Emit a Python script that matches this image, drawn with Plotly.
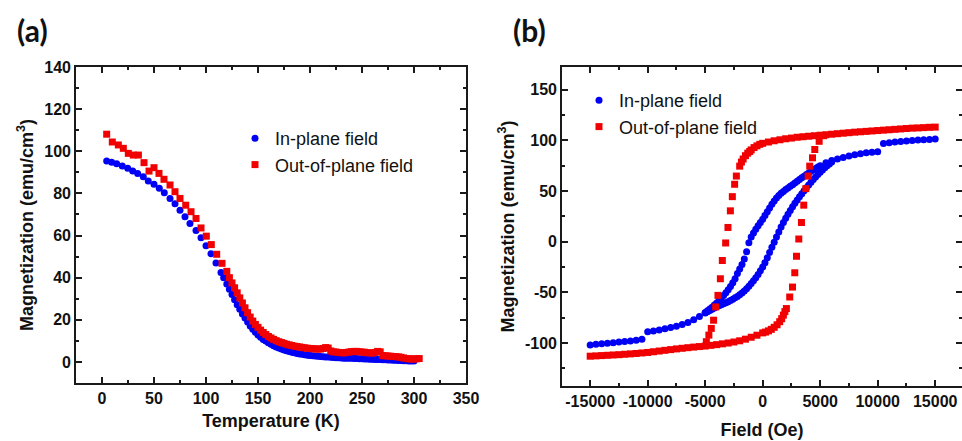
import plotly.graph_objects as go

# ---------------- (a) M(T) curves ----------------
temp_inplane = [4.5, 9.3, 14.1, 19.5, 24.7, 29.5, 34.3, 39.7, 44.5, 50, 55.1, 59.9, 65.4, 70.2, 75,
                79.8, 84.6, 90.4, 95.2, 100, 104.8, 109.6, 114.4, 117, 120, 122.5, 125, 127.5, 130,
                132.5, 135, 137.5, 140, 142.5, 145, 147.5, 150, 152.5, 155, 157.5, 160, 162.5, 165,
                167.5, 170, 172.5, 175, 177.5, 180, 182.5, 185, 187.5, 190, 192.5, 195, 197.5, 200,
                202.5, 205, 207.5, 210, 212.5, 215, 217.5, 220, 222.5, 225, 227.5, 230, 232.5, 235,
                237.5, 240, 242.5, 245, 247.5, 250, 252.5, 255, 257.5, 260, 262.5, 265, 267.5, 270,
                272.5, 275, 277.5, 280, 282.5, 285, 287.5, 290, 292.5, 295, 297.5, 300]
mag_inplane = [95.4, 94.8, 94.1, 93.0, 91.9, 90.6, 89.4, 87.9, 85.9, 84.3, 82.4, 80.3, 77.6, 75.1, 72.0,
               68.9, 65.7, 62.4, 58.9, 55.2, 51.4, 47.0, 42.5, 40.0, 37.0, 34.5, 32.0, 29.5, 27.2,
               25.0, 22.8, 20.8, 18.9, 17.1, 15.5, 14.1, 12.8, 11.7, 10.7, 9.9, 9.1, 8.4, 7.7,
               7.1, 6.6, 6.1, 5.7, 5.3, 4.9, 4.6, 4.3, 4.0, 3.8, 3.6, 3.4, 3.2, 3.0,
               2.9, 2.8, 2.7, 2.6, 2.5, 2.4, 2.3, 2.2, 2.1, 2.0, 2.0, 1.9, 1.8, 1.8,
               1.7, 1.7, 1.6, 1.6, 1.5, 1.5, 1.4, 1.4, 1.3, 1.3, 1.2, 1.2, 1.1, 1.0,
               1.0, 0.9, 0.9, 0.8, 0.8, 0.7, 0.7, 0.6, 0.6, 0.5, 0.5, 0.5]

temp_outplane = [4.5, 9.9, 15.7, 20.5, 25.3, 30.1, 35, 40.4, 45.2, 50, 54.8, 59.6, 65.4, 70.2, 75,
                 80.5, 85.6, 90.4, 95.2, 100.3, 105.1, 110.3, 115.4, 120, 122.5, 125, 127.5, 130,
                 132.5, 135, 137.5, 140, 142.5, 145, 147.5, 150, 152.5, 155, 157.5, 160, 162.5, 165,
                 167.5, 170, 172.5, 175, 177.5, 180, 182.5, 185, 187.5, 190, 192.5, 195, 197.5, 200,
                 202.5, 205, 207.5, 210, 212.5, 215, 217.5, 220, 222.5, 225, 227.5, 230, 232.5, 235,
                 237.5, 240, 242.5, 245, 247.5, 250, 252.5, 255, 257.5, 260, 262.5, 265, 267.5, 270,
                 272.5, 275, 277.5, 280, 282.5, 285, 287.5, 290, 292.5, 295, 297.5, 300, 302.5, 305]
mag_outplane = [108.1, 104.4, 103.0, 101.4, 99.0, 98.2, 98.2, 94.6, 90.6, 92.2, 89.5, 86.7, 84.0, 80.8, 77.6,
                74.4, 71.3, 68.1, 63.6, 59.7, 55.7, 51.1, 46.8, 43.0, 40.0, 37.5, 35.2, 32.8,
                30.4, 28.0, 25.7, 23.4, 21.3, 19.4, 17.8, 16.4, 15.1, 14.0, 13.0, 12.1, 11.4, 10.7,
                10.1, 9.6, 9.2, 8.8, 8.4, 8.1, 7.8, 7.5, 7.3, 7.1, 6.9, 6.7, 6.5, 6.4,
                6.3, 6.2, 6.1, 6.1, 6.4, 6.8, 6.6, 5.2, 4.8, 4.7, 4.5, 4.4, 4.3, 4.5,
                4.7, 4.9, 5.0, 5.0, 4.8, 4.7, 4.6, 4.4, 4.3, 4.2, 4.5, 5.0, 4.8, 3.0,
                2.9, 2.8, 2.7, 2.6, 2.5, 2.4, 2.2, 1.9, 1.6, 1.5, 1.4, 1.4, 1.5, 1.6]

# ---------------- (b) M(H) loops ----------------
# In-plane: sweep from +15 kOe down to the point where the branches meet
field_inplane_down = [15000, 14500, 14000, 13500, 13000, 12500, 12000, 11500, 11000, 10500,
                      10000, 9500, 9000, 8500, 8000, 7500, 7000, 6500, 6000, 5500,
                      5000, 4800, 4600, 4400, 4200, 4000, 3800, 3600, 3400, 3200,
                      3000, 2800, 2600, 2400, 2200, 2000, 1800, 1600, 1400, 1200,
                      1000, 800, 600, 400, 200, 0, -200, -400, -600, -800,
                      -1000, -1200, -1400, -1600, -1800, -2000, -2200, -2400, -2600, -2800,
                      -3000, -3200, -3400, -3600, -3800, -4000, -4200, -4400, -4600, -4800, -5000]
mag_inplane_down = [101.2, 100.9, 100.6, 100.2, 99.8, 99.3, 98.8, 98.2, 97.6, 96.8,
                    88.8, 88.3, 87.6, 86.8, 85.8, 84.5, 83.0, 81.6, 80.0, 77.8,
                    75.0, 73.6, 72.2, 70.9, 69.4, 67.8, 66.2, 64.6, 63.0, 61.4,
                    59.6, 57.9, 56.2, 54.6, 53.0, 51.4, 49.6, 47.7, 45.6, 43.0,
                    40.0, 36.8, 33.2, 29.5, 25.8, 22.0, 18.8, 15.6, 12.3, 8.5,
                    4.5, -1.0, -10.0, -17.0, -22.5, -27.0, -31.5, -36.5, -40.5, -44.2,
                    -47.5, -50.5, -53.2, -55.8, -58.2, -60.5, -62.6, -64.6, -66.4, -68.2, -70.0]
# In-plane: return sweep from -15 kOe up to the merging point
field_inplane_up = [-15000, -14500, -14000, -13500, -13000, -12500, -12000, -11500, -11000, -10500,
                    -10000, -9500, -9000, -8500, -8000, -7500, -7000, -6500, -6000, -5500,
                    -5000, -4800, -4600, -4400, -4200, -4000, -3800, -3600, -3400, -3200,
                    -3000, -2800, -2600, -2400, -2200, -2000, -1800, -1600, -1400, -1200,
                    -1000, -800, -600, -400, -200, 0, 200, 400, 600, 800,
                    1000, 1200, 1400, 1600, 1800, 2000, 2200, 2400, 2600, 2800,
                    3000, 3200, 3400, 3600, 3800, 4000, 4200, 4400, 4600, 4800,
                    5000, 5200, 5400, 5600, 5800, 6000]
mag_inplane_up = [-101.9, -101.3, -100.7, -100.2, -99.7, -99.1, -98.5, -97.9, -97.2, -96.4,
                  -89.0, -88.2, -87.2, -86.0, -84.8, -83.4, -81.8, -79.8, -77.0, -73.8,
                  -70.5, -69.2, -67.8, -66.6, -65.4, -64.3, -63.3, -62.3, -61.3, -60.3,
                  -59.2, -58.0, -56.8, -55.4, -54.0, -52.4, -50.6, -48.6, -46.4, -44.0,
                  -41.4, -38.6, -35.6, -32.3, -28.8, -25.0, -20.8, -16.0, -10.8, -5.4,
                  -0.5, 4.5, 9.5, 14.5, 19.0, 23.0, 27.0, 30.8, 34.4, 37.8,
                  41.0, 44.2, 47.3, 50.3, 53.2, 56.0, 58.7, 61.3, 63.8, 66.2,
                  68.5, 70.7, 72.8, 74.8, 76.7, 78.5]

# Out-of-plane: sweep from +15 kOe through the switching field
field_outplane_down = [15000, 14500, 14000, 13500, 13000, 12500, 12000, 11500, 11000, 10500,
                       10000, 9500, 9000, 8500, 8000, 7500, 7000, 6500, 6000, 5500,
                       5000, 4500, 4000, 3500, 3000, 2500, 2000, 1500, 1000, 500,
                       0, -250, -500, -750, -1000, -1130, -1300, -1500, -1700, -1850,
                       -2000, -2290, -2440, -2640, -2810, -3020, -3220, -3510, -3680, -3890,
                       -4090, -4270, -4470, -4680, -4900]
mag_outplane_down = [113.0, 112.8, 112.5, 112.2, 112.0, 111.6, 111.2, 110.8, 110.4, 110.0,
                     109.6, 109.2, 108.8, 108.4, 108.0, 107.5, 107.0, 106.5, 106.0, 105.5,
                     105.0, 104.5, 104.0, 103.5, 103.0, 102.2, 101.5, 100.5, 99.5, 98.3,
                     97.0, 96.0, 94.5, 92.8, 90.5, 89.0, 87.3, 84.8, 81.5, 78.5,
                     74.5, 64.7, 56.6, 44.4, 30.4, 14.0, -1.3, -18.6, -36.6, -53.0,
                     -64.4, -77.5, -85.6, -92.2, -98.7]
# Out-of-plane: return sweep from -15 kOe through the positive switching field
field_outplane_up = [-15000, -14500, -14000, -13500, -13000, -12500, -12000, -11500, -11000, -10500,
                     -10000, -9500, -9000, -8500, -8000, -7500, -7000, -6500, -6000, -5500,
                     -5000, -4500, -4000, -3500, -3000, -2500, -2000, -1500, -1000, -500,
                     0, 250, 500, 750, 1000, 1250, 1480, 1650, 1800, 1930,
                     2060, 2350, 2590, 2790, 2940, 3140, 3370, 3570, 3750, 3950,
                     4090, 4330, 4530, 4910, 5300]
mag_outplane_up = [-113.0, -112.7, -112.4, -112.1, -111.8, -111.5, -111.1, -110.7, -110.3, -109.8,
                   -109.3, -108.6, -107.9, -107.2, -106.5, -105.8, -105.2, -104.6, -104.0, -103.5,
                   -103.0, -102.3, -101.6, -100.8, -100.0, -99.0, -97.8, -96.2, -94.3, -92.3,
                   -90.0, -89.2, -88.0, -86.5, -84.5, -82.0, -79.0, -76.0, -72.5, -69.0,
                   -66.0, -54.6, -44.8, -30.7, -14.4, 2.6, 18.9, 36.0, 52.3, 64.7,
                   74.5, 82.7, 90.9, 99.0, 104.5]

# Tick labels of panel (b), written with a plain hyphen for negatives
field_ticks = [-15000, -10000, -5000, 0, 5000, 10000, 15000]
field_tick_text = ["-15000", "-10000", "-5000", "0", "5000", "10000", "15000"]
moment_ticks = [-100, -50, 0, 50, 100, 150]
moment_tick_text = ["-100", "-50", "0", "50", "100", "150"]

BLUE = "#0000f5"
RED = "#f00000"
FONT = "Liberation Sans, Arial, sans-serif"

fig = go.Figure()

fig.add_trace(go.Scatter(x=temp_inplane, y=mag_inplane, mode="markers", name="In-plane field",
                         marker=dict(symbol="circle", size=7, color=BLUE, line=dict(width=0)),
                         xaxis="x", yaxis="y", legend="legend"))
fig.add_trace(go.Scatter(x=temp_outplane, y=mag_outplane, mode="markers", name="Out-of-plane field",
                         marker=dict(symbol="square", size=7, color=RED, line=dict(width=0)),
                         xaxis="x", yaxis="y", legend="legend"))

fig.add_trace(go.Scatter(x=field_inplane_down + field_inplane_up,
                         y=mag_inplane_down + mag_inplane_up,
                         mode="markers", name="In-plane field",
                         marker=dict(symbol="circle", size=7, color=BLUE, line=dict(width=0)),
                         xaxis="x2", yaxis="y2", legend="legend2"))
fig.add_trace(go.Scatter(x=field_outplane_down + field_outplane_up,
                         y=mag_outplane_down + mag_outplane_up,
                         mode="markers", name="Out-of-plane field",
                         marker=dict(symbol="square", size=7, color=RED, line=dict(width=0)),
                         xaxis="x2", yaxis="y2", legend="legend2"))

W, H = 962, 441


def axis_style(**kw):
    base = dict(showline=True, linewidth=1.6, linecolor="#1a1a1a", mirror="allticks",
                ticks="inside", ticklen=6, tickwidth=1.6, tickcolor="#1a1a1a",
                showgrid=False, zeroline=False, automargin=False,
                tickfont=dict(family=FONT, size=16, color="#111", weight="bold"))
    base.update(kw)
    return base


def minor(step):
    return dict(ticks="inside", ticklen=3, tickwidth=1.6, tickcolor="#1a1a1a", dtick=step, showgrid=False)


title_font = dict(family=FONT, size=18, color="#111", weight="bold")
panel_font = dict(family="Lato, Open Sans, sans-serif", size=30, color="#111", weight="bold")

fig.update_layout(
    width=W, height=H, margin=dict(l=0, r=0, t=0, b=0),
    paper_bgcolor="white", plot_bgcolor="white",
    xaxis=axis_style(domain=[76 / W, 466 / W], range=[-25, 350], tick0=0, dtick=50, minor=minor(25),
                     anchor="y",
                     title=dict(text="Temperature (K)", standoff=8, font=title_font)),
    yaxis=axis_style(domain=[1 - 383 / H, 1 - 67 / H], range=[-10, 140], tick0=0, dtick=20, minor=minor(10),
                     anchor="x",
                     title=dict(text="Magnetization (emu/cm<sup>3</sup>)", standoff=6, font=title_font)),
    xaxis2=axis_style(domain=[562 / W, 1.0], range=[-17450, 17330],
                      tickmode="array", tickvals=field_ticks, ticktext=field_tick_text,
                      minor=minor(2500), anchor="y2",
                      title=dict(text="Field (Oe)", standoff=14, font=title_font)),
    yaxis2=axis_style(domain=[1 - 386 / H, 1 - 67 / H], range=[-142.4, 172.3],
                      tickmode="array", tickvals=moment_ticks, ticktext=moment_tick_text,
                      minor=minor(25), anchor="x2",
                      title=dict(text="Magnetization (emu/cm<sup>3</sup>)", standoff=6, font=title_font)),
    legend=dict(x=235 / W, y=1 - 120 / H, xanchor="left", yanchor="top", bgcolor="rgba(0,0,0,0)",
                font=dict(family=FONT, size=18, color="#111"), tracegroupgap=0),
    legend2=dict(x=579 / W, y=1 - 82 / H, xanchor="left", yanchor="top", bgcolor="rgba(0,0,0,0)",
                 font=dict(family=FONT, size=18, color="#111"), tracegroupgap=0),
    annotations=[
        dict(text="(a)", x=32 / W, y=1 - 30 / H, xref="paper", yref="paper", showarrow=False,
             xanchor="center", yanchor="middle", font=panel_font),
        dict(text="(b)", x=529 / W, y=1 - 30 / H, xref="paper", yref="paper", showarrow=False,
             xanchor="center", yanchor="middle", font=panel_font),
    ],
)

fig.write_html("out.html")
